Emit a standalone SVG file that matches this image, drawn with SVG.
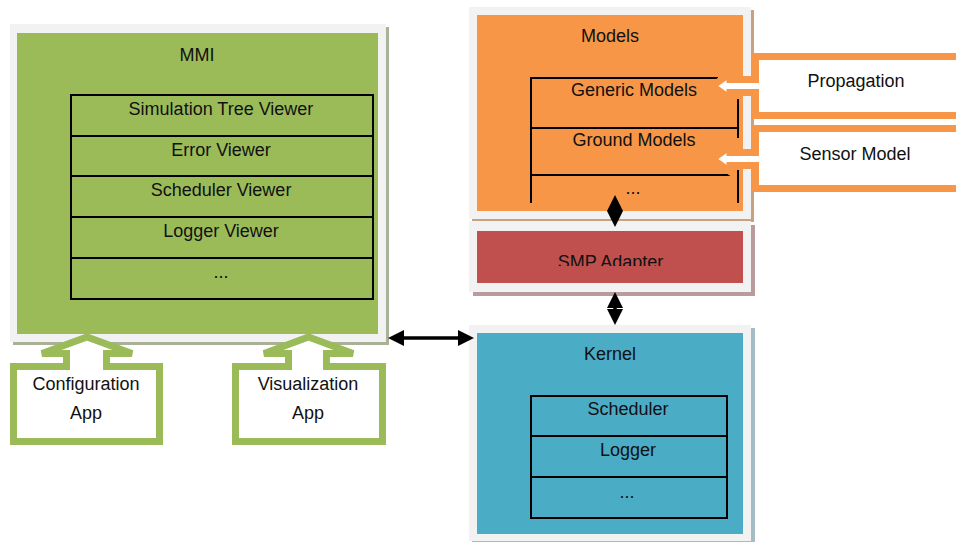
<svg xmlns="http://www.w3.org/2000/svg" width="956" height="542" viewBox="0 0 956 542">
<style>
text{font-family:"Liberation Sans",Arial,sans-serif;font-size:18px;fill:#111;text-anchor:middle}
.frame{fill:#f2f2f2}
.tbl{fill:none;stroke:#000;stroke-width:2}
.ln{stroke:#000;stroke-width:2;fill:none}
.co-g{fill:#fff;stroke:#9bbb59;stroke-width:7;stroke-linejoin:miter}
.co-o{fill:#fff;stroke:#f79646;stroke-width:7;stroke-linejoin:miter}
.conn{stroke:#000;stroke-width:3.5;fill:none;marker-start:url(#ah);marker-end:url(#ah)}
</style>
<defs>
<marker id="ah" markerUnits="userSpaceOnUse" markerWidth="16" markerHeight="16" refX="4" refY="8" orient="auto-start-reverse">
<path d="M0,0 L16,8 L0,16 Z" fill="#000"/>
</marker>
<clipPath id="smpclip"><rect x="477" y="231" width="266" height="35"/></clipPath>
</defs>

<g id="mmi">
<rect x="13" y="27" width="376" height="318" fill="#a9b296"/>
<rect class="frame" x="10" y="24" width="376" height="318"/>
<rect x="17" y="33" width="361" height="301" fill="#9bbb59"/>
<text x="197" y="61">MMI</text>
<rect class="tbl" x="71" y="95" width="302" height="204"/>
<line class="ln" x1="71" y1="136" x2="373" y2="136"/>
<line class="ln" x1="71" y1="176" x2="373" y2="176"/>
<line class="ln" x1="71" y1="217" x2="373" y2="217"/>
<line class="ln" x1="71" y1="258" x2="373" y2="258"/>
<text x="221" y="115">Simulation Tree Viewer</text>
<text x="221" y="156">Error Viewer</text>
<text x="221" y="196">Scheduler Viewer</text>
<text x="221" y="237">Logger Viewer</text>
<text x="221" y="278">...</text>
</g>

<g id="models">
<rect x="472" y="10" width="282" height="212" fill="#c8a27f"/>
<rect class="frame" x="469" y="7" width="282" height="212"/>
<rect x="477" y="15" width="266" height="196" fill="#f79646"/>
<text x="610" y="42">Models</text>
<line class="ln" x1="531" y1="78" x2="718" y2="78"/>
<line class="ln" x1="531" y1="77" x2="531" y2="203"/>
<line class="ln" x1="531" y1="128" x2="738" y2="128"/>
<line class="ln" x1="531" y1="175" x2="732" y2="175"/>
<line class="ln" x1="738" y1="99" x2="738" y2="138"/>
<line class="ln" x1="738" y1="170" x2="738" y2="203"/>
<text x="634" y="96">Generic Models</text>
<text x="634" y="146">Ground Models</text>
<text x="633" y="194">...</text>
</g>

<g id="smp-adapter">
<rect x="473" y="225" width="282" height="71" fill="#b89b9c"/>
<rect class="frame" x="469" y="221" width="282" height="71"/>
<rect x="477" y="231" width="266" height="52" fill="#c0504d"/>
<text x="610.5" y="268" clip-path="url(#smpclip)">SMP Adapter</text>
</g>

<g id="kernel">
<rect x="472" y="328" width="283" height="216" fill="#a3bcc6"/>
<rect class="frame" x="469" y="325" width="282" height="216"/>
<rect x="477" y="333" width="266" height="201" fill="#4bacc6"/>
<text x="610" y="360">Kernel</text>
<rect class="tbl" x="531" y="396" width="196" height="122"/>
<line class="ln" x1="531" y1="436" x2="727" y2="436"/>
<line class="ln" x1="531" y1="477" x2="727" y2="477"/>
<text x="628" y="415">Scheduler</text>
<text x="628" y="456">Logger</text>
<text x="627" y="498">...</text>
</g>

<g id="configuration-app">
<path class="co-g" d="M13.5,441.5 L13.5,366.5 L66.5,366.5 L66.5,353.5 L42,353.5 L87,337 L132,353.5 L106.5,353.5 L106.5,366.5 L159.5,366.5 L159.5,441.5 Z"/>
<text x="86" y="390">Configuration</text>
<text x="86" y="419">App</text>
</g>

<g id="visualization-app">
<path class="co-g" d="M235.5,441.5 L235.5,366.5 L288.5,366.5 L288.5,353.5 L264,353.5 L308.5,337 L353,353.5 L326.5,353.5 L326.5,366.5 L382.5,366.5 L382.5,441.5 Z"/>
<text x="308" y="390">Visualization</text>
<text x="308" y="419">App</text>
</g>

<g id="propagation">
<path class="co-o" d="M970,56.5 L755.5,56.5 L755.5,79.5 L730,79.5 L730,73.5 L712.5,86 L730,98.5 L730,92.5 L755.5,92.5 L755.5,115.5 L970,115.5 Z"/>
<text x="856" y="87">Propagation</text>
</g>

<g id="sensor-model">
<path class="co-o" d="M970,128.5 L755.5,128.5 L755.5,152.5 L730,152.5 L730,146.5 L712.5,159 L730,171.5 L730,165.5 L755.5,165.5 L755.5,188.5 L970,188.5 Z"/>
<text x="855" y="160">Sensor Model</text>
</g>

<g id="connectors">
<line class="conn" x1="615" y1="207" x2="615" y2="215"/>
<line class="conn" x1="615" y1="304" x2="615" y2="313"/>
<line class="conn" x1="400" y1="338" x2="462" y2="338"/>
</g>
</svg>
